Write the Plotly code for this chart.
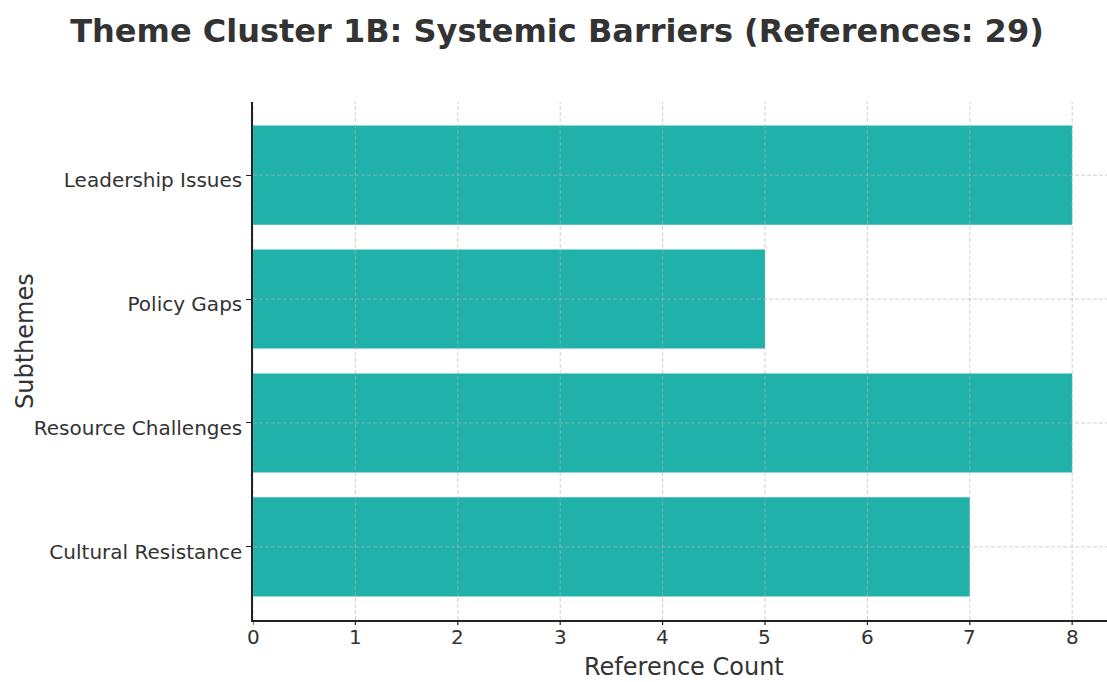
import plotly.graph_objects as go

# Subtheme reference counts (bottom to top)
subthemes = ["Cultural Resistance", "Resource Challenges", "Policy Gaps", "Leadership Issues"]
counts = [7, 8, 5, 8]
x_ticks = [0, 1, 2, 3, 4, 5, 6, 7, 8]

title_text = "Theme Cluster 1B: Systemic Barriers (References: 29)"
font_family = "DejaVu Sans"
text_color = "#333333"
axis_color = "#222222"
grid_color = "rgba(176,176,176,0.6)"
grid_dash = "4px,2px"

fig = go.Figure(
    go.Bar(
        x=counts,
        y=subthemes,
        orientation="h",
        width=0.8,
        marker=dict(color="#20B2AA", line=dict(width=0)),
    )
)

# Dashed grid drawn on top of the bars, plus short x tick marks below the axis
shapes = []
annotations = []
for v in x_ticks:
    shapes.append(dict(
        type="line", xref="x", yref="paper", x0=v, x1=v, y0=0, y1=1,
        line=dict(color=grid_color, width=1, dash=grid_dash), layer="above",
    ))
    shapes.append(dict(
        type="line", xref="x", yref="paper", ysizemode="pixel", yanchor=0,
        x0=v, x1=v, y0=0, y1=-5,
        line=dict(color=axis_color, width=1.2), layer="above",
    ))
    annotations.append(dict(
        text=str(v), xref="x", yref="paper", x=v, y=0, yshift=-17,
        xanchor="center", yanchor="middle", showarrow=False,
        font=dict(family=font_family, size=20, color=text_color),
    ))
for cat in subthemes:
    shapes.append(dict(
        type="line", xref="paper", yref="y", x0=0, x1=1, y0=cat, y1=cat,
        line=dict(color=grid_color, width=1, dash=grid_dash), layer="above",
    ))

annotations.append(dict(
    text="Subthemes", textangle=-90,
    xref="paper", yref="paper",
    x=(25 - 253) / 854, y=(620 - 341) / 518,
    xanchor="center", yanchor="middle", showarrow=False,
    font=dict(family=font_family, size=24, color=text_color),
))
annotations.append(dict(
    text="Reference Count",
    xref="paper", yref="paper",
    x=(684 - 253) / 854, y=0, yshift=-47,
    xanchor="center", yanchor="middle", showarrow=False,
    font=dict(family=font_family, size=24, color=text_color),
))

fig.update_layout(
    width=1107,
    height=682,
    margin=dict(l=253, r=0, t=102, b=62),
    paper_bgcolor="white",
    plot_bgcolor="white",
    showlegend=False,
    shapes=shapes,
    annotations=annotations,
    font=dict(family=font_family, color=text_color, size=20),
    title=dict(
        text="<b>" + title_text + "</b>",
        x=557 / 1107,
        xanchor="center",
        xref="container",
        y=1 - 31 / 682,
        yanchor="middle",
        yref="container",
        font=dict(family=font_family, size=32, color=text_color),
    ),
)

fig.update_xaxes(
    range=[0, 8.34],
    tickvals=x_ticks,
    showticklabels=False,
    showgrid=False,
    showline=True,
    linecolor=axis_color,
    linewidth=1.5,
    ticks="",
    zeroline=False,
    layer="above traces",
)

fig.update_yaxes(
    type="category",
    categoryorder="array",
    categoryarray=subthemes,
    range=[-0.59, 3.59],
    showgrid=False,
    showline=True,
    linecolor=axis_color,
    linewidth=1.5,
    ticks="outside",
    ticklen=5,
    tickcolor=axis_color,
    tickfont=dict(size=20, color=text_color),
    ticklabelshift=5,
    zeroline=False,
    layer="above traces",
)

fig.write_html("out.html")
